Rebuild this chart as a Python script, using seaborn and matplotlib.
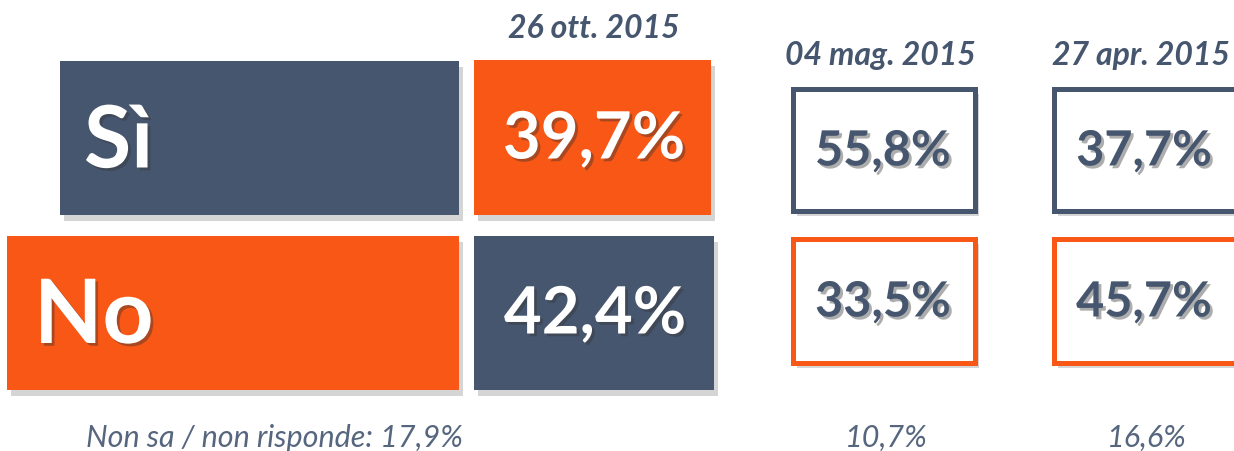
import matplotlib
matplotlib.use("Agg")
import matplotlib.pyplot as plt
import matplotlib.patheffects as pe
from matplotlib.patches import Rectangle
import seaborn as sns

# ---- data ----
dates = ["26 ott. 2015", "04 mag. 2015", "27 apr. 2015"]
si_values = [39.7, 55.8, 37.7]
no_values = [42.4, 33.5, 45.7]
undecided = [17.9, 10.7, 16.6]
answer_labels = ["Sì", "No"]
undecided_label = "Non sa / non risponde: "

DARK = "#46566E"
ORANGE = "#F95715"
NOTE = "#56667E"

sns.set_theme(style="white")
plt.rcParams["font.family"] = ["Lato", "DejaVu Sans"]

def fmt(v):
    return f"{v:.1f}".replace(".", ",") + "%"

fig = plt.figure(figsize=(12.34, 4.51), dpi=100)
ax = fig.add_axes([0, 0, 1, 1])
ax.set_xlim(0, 1234)
ax.set_ylim(451, 0)
ax.axis("off")

shadow = [pe.SimplePatchShadow(offset=(3, -4), alpha=0.22, shadow_rgbFace="#444444"), pe.Normal()]
tshadow = [pe.SimplePatchShadow(offset=(2, -2), alpha=0.4, shadow_rgbFace="#333333"), pe.Normal()]

# label bars
ax.add_patch(Rectangle((60, 61), 399, 154, facecolor=DARK, edgecolor="none", path_effects=shadow))
ax.add_patch(Rectangle((7, 236), 452, 154, facecolor=ORANGE, edgecolor="none", path_effects=shadow))
ax.text(84, 143, answer_labels[0], color="white", fontsize=62, fontweight="bold",
        ha="left", va="center", path_effects=tshadow)
ax.text(34, 317, answer_labels[1], color="white", fontsize=64, fontweight="bold",
        ha="left", va="center", path_effects=tshadow)

# current poll boxes
ax.add_patch(Rectangle((474, 60), 237, 155, facecolor=ORANGE, edgecolor="none", path_effects=shadow))
ax.add_patch(Rectangle((474, 236), 240, 154, facecolor=DARK, edgecolor="none", path_effects=shadow))
ax.text(594, 140, fmt(si_values[0]), color="white", fontsize=47, fontweight="bold",
        ha="center", va="center", path_effects=tshadow)
ax.text(595, 315, fmt(no_values[0]), color="white", fontsize=47, fontweight="bold",
        ha="center", va="center", path_effects=tshadow)
ax.text(594, 28, dates[0], color=DARK, fontsize=23, fontweight="bold", style="italic",
        ha="center", va="center")
ax.text(275, 438, undecided_label + fmt(undecided[0]), color=NOTE, fontsize=22,
        fontweight="normal", style="italic", ha="center", va="center")

# previous polls: outlined boxes
prev_x = [790, 1051]
for i, x0 in enumerate(prev_x):
    k = i + 1
    ax.add_patch(Rectangle((x0 + 2.5, 88.5), 182, 122, facecolor="white", edgecolor=DARK,
                           linewidth=3.6, path_effects=shadow))
    ax.add_patch(Rectangle((x0 + 2.5, 238.5), 182, 124, facecolor="white", edgecolor=ORANGE,
                           linewidth=3.6, path_effects=shadow))
    cx = x0 + 93
    ax.text(cx, 151, fmt(si_values[k]), color=DARK, fontsize=35, fontweight="bold",
            ha="center", va="center", path_effects=tshadow)
    ax.text(cx, 302, fmt(no_values[k]), color=DARK, fontsize=35, fontweight="bold",
            ha="center", va="center", path_effects=tshadow)
    ax.text(cx - 3, 55, dates[k], color=DARK, fontsize=23, fontweight="bold", style="italic",
            ha="center", va="center")
    ax.text(cx + 3, 438, fmt(undecided[k]), color=NOTE, fontsize=22, fontweight="normal",
            style="italic", ha="center", va="center")

fig.savefig("out.png", dpi=100, facecolor="white")
